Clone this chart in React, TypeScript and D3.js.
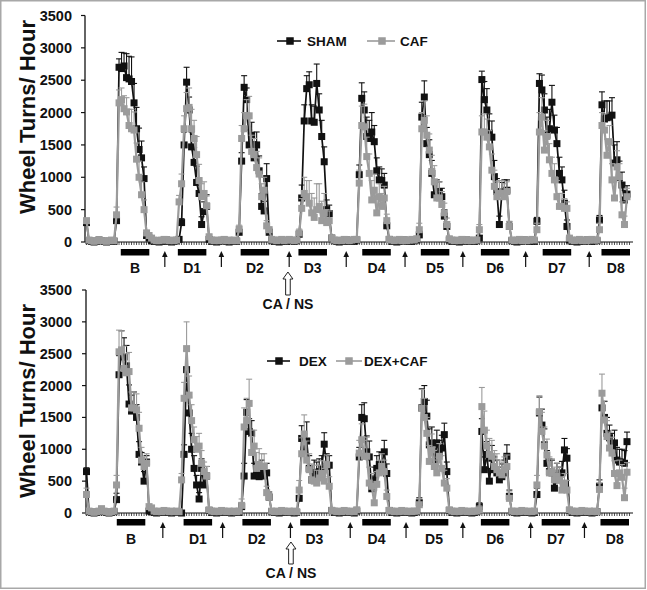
import React from 'react';
import * as d3 from 'd3';

const W = 647;
const H = 590;

const Y_TICKS = [0, 500, 1000, 1500, 2000, 2500, 3000, 3500];
const DAY_LABELS = ['B', 'D1', 'D2', 'D3', 'D4', 'D5', 'D6', 'D7', 'D8'];
const TOP_DARK_STARTS = [13.7, 36.5, 61.6, 84.7, 110.2, 133.6, 157.6, 182.3, 205.8];
const BOTTOM_DARK_STARTS = [12.1, 38.8, 62.3, 85.4, 110.2, 133.2, 157.6, 181.9, 205.4];
const DARK_LENGTH = 11.4;
const TOP_ARROWS = [31.3, 53.9, 81.0, 103.8, 127.3, 150.4, 175.5, 200.9];
const BOTTOM_ARROWS = [30.5, 54.4, 81.5, 105.4, 127.7, 150.4, 177.5, 199.0];
const TOP_INJECTION = 80.5;
const BOTTOM_INJECTION = 81.7;
const INJECTION_LABEL = 'CA / NS';
const Y_LABEL = 'Wheel Turns/ Hour';

// Hourly means (wheel turns / hour), hours 0..216
const SHAM = [
  300, 20, 10, 0, 10, 30, 20, 10, 0, 10, 20, 10,
  330, 2700, 2680, 2720, 2540, 2520, 2480, 2150, 1750, 1430, 1300, 980,
  100, 60, 20, 10, 10, 0, 20, 10, 30, 10, 0, 10,
  20, 40, 300, 1500, 2470, 2040, 1470, 1230, 920, 750, 270, 470,
  550, 40, 10, 20, 0, 10, 20, 30, 10, 0, 10, 20,
  10, 150, 1250, 2390, 2200, 1500, 1650, 1300, 1500, 1100, 550, 480,
  980, 150, 30, 10, 20, 0, 10, 20, 10, 30, 20, 10,
  20, 120, 680, 1870, 2370, 2430, 1870, 1850, 2450, 2040, 1630, 1240,
  500, 440, 60, 20, 10, 0, 20, 10, 30, 10, 20, 10,
  30, 1040, 2220, 2040, 1630, 1600, 1700, 1550, 1100, 960, 950, 880,
  250, 40, 10, 20, 0, 10, 20, 30, 10, 20, 10, 20,
  30, 110, 1930, 2240, 1520, 1350, 1060, 730, 780, 780, 700, 400,
  240, 30, 10, 20, 10, 0, 20, 10, 30, 10, 20, 10,
  20, 60, 2510, 2200, 2040, 1680, 1620, 1010, 780, 270, 750, 780,
  800, 240, 20, 10, 0, 20, 10, 30, 20, 10, 20, 10,
  320, 2450, 2350, 2040, 1650, 1750, 2160, 1730, 1520, 1060, 960, 600,
  240, 30, 10, 20, 0, 10, 20, 10, 30, 20, 10, 20,
  20, 340, 2120, 1900, 1920, 1930, 1960, 1220, 1270, 1000, 880, 650, 740,
];
const SHAM_ERR = [
  30, 0, 0, 0, 0, 0, 0, 0, 0, 0, 0, 0,
  80, 130, 250, 200, 370, 350, 380, 300, 330, 330, 260, 180,
  30, 0, 0, 0, 0, 0, 0, 0, 0, 0, 0, 0,
  0, 0, 60, 200, 230, 200, 230, 230, 250, 200, 120, 150,
  180, 0, 0, 0, 0, 0, 0, 0, 0, 0, 0, 0,
  0, 0, 130, 180, 180, 230, 200, 250, 200, 230, 200, 150,
  230, 60, 0, 0, 0, 0, 0, 0, 0, 0, 0, 0,
  0, 40, 200, 250, 200, 200, 250, 250, 300, 250, 250, 230,
  150, 130, 0, 0, 0, 0, 0, 0, 0, 0, 0, 0,
  0, 150, 240, 280, 300, 280, 300, 250, 200, 200, 180, 180,
  60, 0, 0, 0, 0, 0, 0, 0, 0, 0, 0, 0,
  0, 60, 230, 250, 250, 230, 200, 180, 180, 150, 130, 100,
  70, 0, 0, 0, 0, 0, 0, 0, 0, 0, 0, 0,
  0, 40, 130, 280, 330, 300, 250, 250, 200, 130, 170, 180,
  160, 70, 0, 0, 0, 0, 0, 0, 0, 0, 0, 0,
  60, 150, 230, 250, 280, 300, 260, 230, 250, 250, 200, 200,
  100, 0, 0, 0, 0, 0, 0, 0, 0, 0, 0, 0,
  0, 70, 200, 280, 260, 250, 270, 280, 280, 250, 200, 150, 130,
];
const CAF = [
  330, 30, 20, 10, 20, 30, 20, 20, 10, 20, 30, 20,
  420, 2150, 2200, 2060, 2010, 1800, 1750, 1730, 1280, 1000, 730, 500,
  140, 100, 60, 30, 20, 20, 30, 40, 30, 20, 30, 20,
  30, 620, 900, 1750, 2060, 2080, 1750, 1600, 1350, 950, 700, 750,
  560, 80, 30, 20, 30, 20, 30, 40, 20, 30, 20, 30,
  20, 200, 1600, 1750, 1950, 1950, 1400, 1350, 1150, 1050, 700, 800,
  250, 190, 40, 30, 20, 30, 40, 20, 30, 40, 30, 20,
  30, 140, 520, 750, 700, 600, 450, 380, 500, 550, 330, 450,
  300, 330, 60, 30, 20, 30, 20, 40, 30, 20, 30, 40,
  40, 910, 1800, 1780, 1320, 1060, 650, 800, 450, 700, 550, 680,
  330, 40, 30, 20, 30, 40, 20, 30, 20, 30, 40, 30,
  50, 190, 1750, 1880, 1650, 1420, 1090, 930, 680, 680, 580, 450,
  270, 50, 30, 20, 30, 20, 40, 30, 20, 30, 20, 30,
  30, 190, 1700, 1700, 1620, 1470, 1110, 860, 700, 750, 750, 700,
  780, 240, 30, 20, 30, 40, 20, 30, 20, 30, 40, 30,
  190, 1700, 1930, 1420, 1630, 1270, 1060, 960, 700, 550, 550, 520,
  520, 60, 30, 20, 30, 40, 20, 30, 20, 30, 40, 30,
  30, 190, 1800, 1730, 1340, 1550, 960, 680, 1160, 1010, 420, 270, 700,
];
const CAF_ERR = [
  30, 0, 0, 0, 0, 0, 0, 0, 0, 0, 0, 0,
  120, 200, 180, 200, 220, 250, 300, 280, 250, 250, 200, 150,
  40, 0, 0, 0, 0, 0, 0, 0, 0, 0, 0, 0,
  0, 100, 150, 200, 250, 300, 300, 280, 280, 250, 200, 180,
  150, 40, 0, 0, 0, 0, 0, 0, 0, 0, 0, 0,
  0, 60, 200, 250, 250, 300, 250, 250, 250, 250, 200, 200,
  80, 40, 0, 0, 0, 0, 0, 0, 0, 0, 0, 0,
  0, 60, 150, 250, 250, 350, 300, 300, 400, 350, 300, 300,
  200, 150, 0, 0, 0, 0, 0, 0, 0, 0, 0, 0,
  0, 200, 300, 350, 300, 300, 300, 250, 250, 200, 200, 180,
  100, 0, 0, 0, 0, 0, 0, 0, 0, 0, 0, 0,
  0, 100, 250, 300, 300, 250, 250, 250, 250, 250, 200, 150,
  100, 0, 0, 0, 0, 0, 0, 0, 0, 0, 0, 0,
  0, 80, 250, 280, 280, 250, 250, 250, 230, 200, 200, 200,
  150, 80, 0, 0, 0, 0, 0, 0, 0, 0, 0, 0,
  100, 300, 300, 300, 250, 250, 250, 250, 250, 200, 200, 150,
  100, 0, 0, 0, 0, 0, 0, 0, 0, 0, 0, 0,
  0, 100, 200, 250, 250, 250, 250, 250, 250, 200, 200, 130, 130,
];
const DEX = [
  650, 20, 10, 0, 10, 20, 60, 20, 10, 0, 10, 20,
  210, 2170, 2530, 2450, 2310, 1710, 1600, 1650, 1500, 920, 800, 500,
  800, 30, 20, 10, 0, 10, 20, 10, 20, 10, 0, 10,
  20, 10, 0, 920, 2250, 1570, 1000, 700, 440, 220, 700, 440,
  580, 40, 10, 20, 0, 10, 20, 10, 20, 10, 0, 10,
  20, 10, 100, 580, 1580, 1280, 1250, 580, 600, 570, 630, 580,
  630, 250, 20, 10, 20, 0, 10, 20, 10, 20, 10, 0,
  10, 230, 1170, 990, 1130, 700, 520, 630, 600, 650, 700, 1080,
  730, 750, 40, 10, 20, 0, 10, 20, 10, 20, 10, 0,
  30, 880, 1500, 1480, 960, 880, 380, 520, 700, 760, 770, 960,
  620, 40, 10, 20, 0, 10, 20, 10, 20, 10, 0, 10,
  20, 160, 1650, 1750, 1520, 1070, 1100, 810, 1100, 940, 1020, 1230,
  650, 40, 10, 20, 0, 10, 20, 10, 20, 10, 0, 10,
  20, 100, 1280, 680, 920, 500, 860, 680, 630, 520, 570, 630,
  890, 260, 20, 10, 0, 10, 20, 10, 20, 10, 0, 10,
  290, 1570, 1380, 1070, 780, 650, 630, 390, 580, 520, 630, 990,
  860, 40, 10, 20, 0, 10, 20, 10, 20, 10, 0, 10,
  20, 420, 1650, 1500, 1250, 1180, 1050, 1100, 830, 800, 800, 780, 1120,
];
const DEX_ERR = [
  60, 0, 0, 0, 0, 0, 0, 0, 0, 0, 0, 0,
  100, 300, 330, 300, 320, 300, 250, 250, 200, 200, 150, 150,
  100, 0, 0, 0, 0, 0, 0, 0, 0, 0, 0, 0,
  0, 0, 0, 150, 300, 250, 250, 200, 150, 100, 150, 150,
  150, 0, 0, 0, 0, 0, 0, 0, 0, 0, 0, 0,
  0, 0, 60, 200, 200, 200, 200, 200, 200, 200, 200, 180,
  150, 80, 0, 0, 0, 0, 0, 0, 0, 0, 0, 0,
  0, 100, 200, 250, 300, 200, 150, 200, 200, 200, 200, 180,
  200, 150, 0, 0, 0, 0, 0, 0, 0, 0, 0, 0,
  0, 150, 200, 250, 250, 250, 200, 200, 200, 200, 180, 180,
  150, 0, 0, 0, 0, 0, 0, 0, 0, 0, 0, 0,
  0, 80, 300, 250, 250, 250, 250, 200, 200, 200, 200, 180,
  150, 0, 0, 0, 0, 0, 0, 0, 0, 0, 0, 0,
  0, 60, 200, 200, 200, 200, 200, 200, 200, 200, 200, 200,
  180, 100, 0, 0, 0, 0, 0, 0, 0, 0, 0, 0,
  100, 250, 250, 250, 200, 200, 200, 200, 200, 200, 180, 180,
  150, 0, 0, 0, 0, 0, 0, 0, 0, 0, 0, 0,
  0, 100, 250, 250, 250, 200, 200, 200, 200, 200, 200, 200, 150,
];
const DEX_CAF = [
  290, 30, 20, 10, 20, 30, 60, 30, 20, 10, 20, 30,
  440, 2530, 2560, 2270, 2200, 2220, 1650, 1650, 1620, 1330, 830, 730,
  780, 100, 80, 30, 20, 30, 20, 40, 30, 20, 30, 20,
  30, 20, 520, 1800, 2580, 1850, 1450, 1150, 1000, 1050, 780, 650,
  580, 50, 30, 20, 30, 20, 40, 30, 20, 30, 20, 30,
  20, 30, 120, 1350, 1450, 1720, 950, 1050, 700, 760, 730, 730,
  320, 250, 30, 20, 30, 20, 40, 30, 20, 30, 20, 30,
  20, 360, 930, 1240, 830, 680, 520, 500, 470, 550, 620, 500,
  760, 420, 40, 30, 20, 30, 20, 40, 30, 20, 30, 20,
  50, 940, 1150, 890, 890, 470, 420, 160, 450, 630, 730, 650,
  260, 40, 30, 20, 30, 20, 40, 30, 20, 30, 20, 30,
  30, 130, 1640, 1500, 1250, 810, 990, 730, 630, 890, 700, 470,
  390, 50, 30, 20, 30, 20, 40, 30, 20, 30, 20, 30,
  30, 50, 1670, 1300, 1050, 920, 890, 730, 680, 630, 600, 680,
  730, 230, 30, 20, 30, 20, 40, 30, 20, 30, 20, 30,
  440, 1590, 1280, 1050, 910, 630, 650, 520, 580, 520, 360, 470,
  360, 50, 30, 20, 30, 20, 40, 30, 20, 30, 20, 30,
  20, 370, 1880, 1460, 1200, 1020, 940, 620, 430, 630, 560, 240, 640,
];
const DEX_CAF_ERR = [
  100, 0, 0, 0, 0, 0, 0, 0, 0, 0, 0, 0,
  150, 340, 300, 350, 300, 300, 250, 250, 250, 250, 200, 150,
  150, 0, 0, 0, 0, 0, 0, 0, 0, 0, 0, 0,
  0, 0, 100, 250, 420, 300, 250, 200, 200, 200, 200, 150,
  150, 0, 0, 0, 0, 0, 0, 0, 0, 0, 0, 0,
  0, 0, 100, 300, 350, 380, 250, 250, 250, 250, 200, 200,
  100, 80, 0, 0, 0, 0, 0, 0, 0, 0, 0, 0,
  0, 150, 250, 300, 300, 250, 250, 250, 200, 200, 200, 200,
  150, 150, 0, 0, 0, 0, 0, 0, 0, 0, 0, 0,
  0, 200, 250, 250, 300, 250, 200, 200, 200, 200, 200, 180,
  100, 0, 0, 0, 0, 0, 0, 0, 0, 0, 0, 0,
  0, 100, 300, 300, 250, 250, 250, 250, 200, 200, 200, 200,
  150, 0, 0, 0, 0, 0, 0, 0, 0, 0, 0, 0,
  0, 60, 300, 300, 250, 250, 250, 250, 250, 200, 200, 200,
  180, 100, 0, 0, 0, 0, 0, 0, 0, 0, 0, 0,
  150, 250, 300, 300, 250, 250, 200, 200, 200, 200, 200, 150,
  150, 0, 0, 0, 0, 0, 0, 0, 0, 0, 0, 0,
  0, 100, 300, 300, 250, 250, 250, 200, 200, 200, 200, 150, 150,
];

const BLACK = '#111111';
const GRAY = '#9b9b9b';
const FONT = 'Arial, "Liberation Sans", Helvetica, sans-serif';

type SeriesDef = { name: string; values: number[]; errs: number[]; color: string; width: number };

function SeriesMarks({ s, x, y }: { s: SeriesDef; x: d3.ScaleLinear<number, number>; y: d3.ScaleLinear<number, number> }) {
  const line = d3.line<number>().x((_, i) => x(i)).y((d) => y(d));
  const size = 7;
  return (
    <g>
      {s.values.map((v, i) =>
        s.errs[i] > 0 ? (
          <g key={'e' + i} stroke={s.color} strokeWidth={1.1}>
            <line x1={x(i)} x2={x(i)} y1={y(v)} y2={y(v + s.errs[i])} />
            <line x1={x(i) - 3} x2={x(i) + 3} y1={y(v + s.errs[i])} y2={y(v + s.errs[i])} />
          </g>
        ) : null
      )}
      <path d={line(s.values) || ''} fill="none" stroke={s.color} strokeWidth={s.width} strokeLinejoin="round" />
      {s.values.map((v, i) => (
        <rect key={'m' + i} x={x(i) - size / 2} y={y(v) - size / 2} width={size} height={size} fill={s.color} />
      ))}
    </g>
  );
}

type PanelLayout = {
  zeroY: number;
  topY: number;
  axisX: number;
  barY: number;
  labelY: number;
  arrowTip: number;
  arrowBase: number;
  hollowTip: number;
  hollowBase: number;
  caY: number;
  yLabelY: number;
  legendY: number;
  legend: { x1: number; x2: number; sq: number; tx: number }[];
};

function Panel({
  layout,
  series,
  drawOrder,
  darkStarts,
  arrows,
  injection,
}: {
  layout: PanelLayout;
  series: SeriesDef[];
  drawOrder: number[];
  darkStarts: number[];
  arrows: number[];
  injection: number;
}) {
  const x = d3.scaleLinear().domain([-0.6, 218.4]).range([85, 633]);
  const y = d3.scaleLinear().domain([0, 3500]).range([layout.zeroY, layout.topY]);
  const hourTicks = d3.range(0, 218);
  const L = layout;
  const hx = x(injection);
  return (
    <g>
      <text
        transform={`translate(27,${L.yLabelY}) rotate(-90)`}
        textAnchor="middle"
        dominantBaseline="central"
        fontFamily={FONT}
        fontWeight="bold"
        fontSize={22}
        fill="#111"
      >
        {Y_LABEL}
      </text>
      <line x1={L.axisX} x2={L.axisX} y1={y(3500)} y2={y(0)} stroke="#111" strokeWidth={1.3} />
      {Y_TICKS.map((t) => (
        <g key={t}>
          <line x1={L.axisX - 4} x2={L.axisX} y1={y(t)} y2={y(t)} stroke="#111" strokeWidth={1.2} />
          <text
            x={72}
            y={y(t)}
            textAnchor="end"
            dominantBaseline="central"
            fontFamily={FONT}
            fontWeight="bold"
            fontSize={14.5}
            fill="#111"
          >
            {t}
          </text>
        </g>
      ))}
      <line x1={L.axisX} x2={633} y1={y(0)} y2={y(0)} stroke="#111" strokeWidth={1.2} />
      {hourTicks.map((h) => (
        <line key={h} x1={x(h)} x2={x(h)} y1={y(0)} y2={y(0) + 3} stroke="#222" strokeWidth={0.8} />
      ))}
      {drawOrder.map((k) => (
        <SeriesMarks key={series[k].name} s={series[k]} x={x} y={y} />
      ))}
      {series.map((s, k) => (
        <g key={'lg' + k}>
          <line x1={L.legend[k].x1} x2={L.legend[k].x2} y1={L.legendY} y2={L.legendY} stroke={s.color} strokeWidth={1.6} />
          <rect x={L.legend[k].sq - 3.75} y={L.legendY - 3.75} width={7.5} height={7.5} fill={s.color} />
          <text
            x={L.legend[k].tx}
            y={L.legendY}
            dominantBaseline="central"
            fontFamily={FONT}
            fontWeight="bold"
            fontSize={13.5}
            fill="#111"
          >
            {s.name}
          </text>
        </g>
      ))}
      {darkStarts.map((s, i) => (
        <g key={'d' + i}>
          <rect x={x(s)} y={L.barY} width={x(s + DARK_LENGTH) - x(s)} height={6.5} fill="#000" />
          <text
            x={x(s + DARK_LENGTH / 2)}
            y={L.labelY}
            textAnchor="middle"
            fontFamily={FONT}
            fontWeight="bold"
            fontSize={14}
            fill="#111"
          >
            {DAY_LABELS[i]}
          </text>
        </g>
      ))}
      {arrows.map((a, i) => (
        <g key={'a' + i}>
          <line x1={x(a)} x2={x(a)} y1={L.arrowBase} y2={L.arrowTip + 5} stroke="#111" strokeWidth={1.2} />
          <path
            d={`M${x(a)},${L.arrowTip} L${x(a) + 2.8},${L.arrowTip + 6} L${x(a) - 2.8},${L.arrowTip + 6} Z`}
            fill="#111"
          />
        </g>
      ))}
      <path
        d={`M${hx},${L.hollowTip} L${hx + 5},${L.hollowTip + 7} L${hx + 2.3},${L.hollowTip + 7} L${hx + 2.3},${L.hollowBase} L${hx - 2.3},${L.hollowBase} L${hx - 2.3},${L.hollowTip + 7} L${hx - 5},${L.hollowTip + 7} Z`}
        fill="#fff"
        stroke="#222"
        strokeWidth={1}
      />
      <text x={hx} y={L.caY} textAnchor="middle" fontFamily={FONT} fontWeight="bold" fontSize={14} fill="#111">
        {INJECTION_LABEL}
      </text>
    </g>
  );
}

const TOP_LAYOUT: PanelLayout = {
  zeroY: 242,
  topY: 15.5,
  axisX: 85,
  barY: 249,
  labelY: 273,
  arrowTip: 251,
  arrowBase: 267,
  hollowTip: 272,
  hollowBase: 295,
  caY: 309,
  yLabelY: 117,
  legendY: 41,
  legend: [
    { x1: 277, x2: 301, sq: 290, tx: 307 },
    { x1: 367, x2: 395, sq: 382, tx: 400 },
  ],
};

const BOTTOM_LAYOUT: PanelLayout = {
  zeroY: 513,
  topY: 290,
  axisX: 86,
  barY: 519,
  labelY: 544,
  arrowTip: 522,
  arrowBase: 538,
  hollowTip: 542,
  hollowBase: 564,
  caY: 578,
  yLabelY: 401,
  legendY: 361,
  legend: [
    { x1: 267, x2: 290, sq: 279, tx: 299 },
    { x1: 336, x2: 362, sq: 349, tx: 364 },
  ],
};

export default function App() {
  const topSeries: SeriesDef[] = [
    { name: 'SHAM', values: SHAM, errs: SHAM_ERR, color: BLACK, width: 1.7 },
    { name: 'CAF', values: CAF, errs: CAF_ERR, color: GRAY, width: 2.2 },
  ];
  const bottomSeries: SeriesDef[] = [
    { name: 'DEX', values: DEX, errs: DEX_ERR, color: BLACK, width: 1.7 },
    { name: 'DEX+CAF', values: DEX_CAF, errs: DEX_CAF_ERR, color: GRAY, width: 2.2 },
  ];
  return (
    <svg
      width={W}
      height={H}
      viewBox={`0 0 ${W} ${H}`}
      style={{ position: 'absolute', left: 0, top: 0, background: '#fff' }}
    >
      <rect x={0} y={0} width={W} height={H} fill="#fff" />
      <rect x={0.75} y={0.75} width={644.5} height={587.5} fill="none" stroke="#a8a8a8" strokeWidth={1.5} />
      <Panel
        layout={TOP_LAYOUT}
        series={topSeries}
        drawOrder={[0, 1]}
        darkStarts={TOP_DARK_STARTS}
        arrows={TOP_ARROWS}
        injection={TOP_INJECTION}
      />
      <Panel
        layout={BOTTOM_LAYOUT}
        series={bottomSeries}
        drawOrder={[0, 1]}
        darkStarts={BOTTOM_DARK_STARTS}
        arrows={BOTTOM_ARROWS}
        injection={BOTTOM_INJECTION}
      />
    </svg>
  );
}
